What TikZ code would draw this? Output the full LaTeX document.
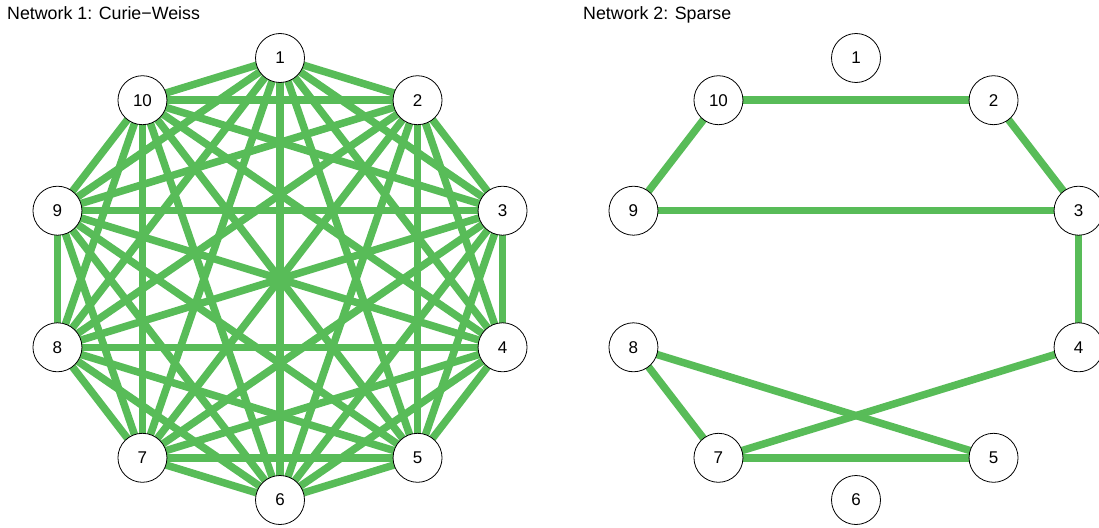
\documentclass[tikz,border=0pt]{standalone}
\usepackage{fontspec}
\setmainfont{Liberation Sans}
\begin{document}
\begin{tikzpicture}[x=1pt,y=1pt,
  vtx/.style={circle,draw=black,line width=0.8pt,fill=white,minimum size=49pt,inner sep=0pt,font=\fontsize{17}{17}\selectfont},
  edge/.style={draw=edgegreen,line width=7.5pt},
  ttl/.style={anchor=base west,inner sep=0pt,font=\fontsize{17.8}{20}\selectfont}]
\definecolor{edgegreen}{RGB}{88,188,88}
\useasboundingbox (0,-527) rectangle (1099,0);
\node[ttl] (t1) at (7,-20) {Network 1: Curie−Weiss};
\node[ttl] (t2) at (583,-20) {Network 2: Sparse};
% node coordinates
\foreach \k in {1,...,10}{
  \pgfmathsetmacro{\ang}{90-36*(\k-1)}
  \coordinate (pa\k) at ({280+234*cos(\ang)},{-279+221*sin(\ang)});
  \coordinate (pb\k) at ({856+234*cos(\ang)},{-279+221*sin(\ang)});
}
% edges network 1
\foreach \i in {1,...,9}{
  \pgfmathtruncatemacro{\s}{\i+1}
  \foreach \j in {\s,...,10}{
    \draw[edge] (pa\i) -- (pa\j);
  }
}
% edges network 2
\foreach \i/\j in {10/2,2/3,9/10,9/3,3/4,8/7,8/5,7/5,7/4}{
  \draw[edge] (pb\i) -- (pb\j);
}
% nodes
\foreach \k in {1,...,10}{
  \node[vtx] (a\k) at (pa\k) {\k};
  \node[vtx] (b\k) at (pb\k) {\k};
}
\end{tikzpicture}
\end{document}
